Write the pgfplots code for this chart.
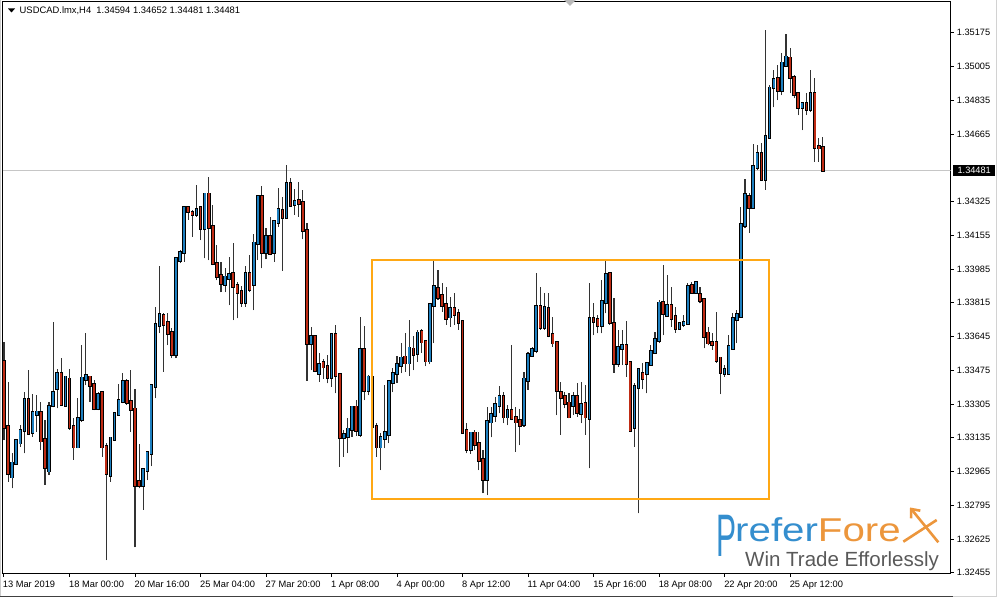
\documentclass[border=0pt]{standalone}
\usepackage{pgfplots}
\pgfplotsset{compat=1.18}
\usepackage{pgfplotstable}
\usepackage{fontspec}
\setmainfont{Liberation Sans}
\usetikzlibrary{arrows.meta}

\definecolor{upc}{RGB}{30,128,192}
\definecolor{dnc}{RGB}{192,44,20}
\definecolor{boxc}{RGB}{255,168,20}
\definecolor{pfblue}{RGB}{52,142,206}
\definecolor{pforange}{RGB}{236,150,60}

% USDCAD H4 candles: index, open, high, low, close
\pgfplotstableread{
i o h l c
0 1.33518 1.33619 1.33123 1.33190
1 1.33190 1.33417 1.32913 1.32956
2 1.32939 1.33056 1.32880 1.33006
3 1.33009 1.33127 1.33003 1.33120
4 1.33110 1.33199 1.33090 1.33170
5 1.33174 1.33367 1.33056 1.33328
6 1.33328 1.33476 1.33149 1.33160
7 1.33165 1.33355 1.33140 1.33261
8 1.33254 1.33350 1.33165 1.33263
9 1.33261 1.33316 1.33073 1.33120
10 1.33123 1.33224 1.32897 1.32989
11 1.32969 1.33316 1.32947 1.33291
12 1.33300 1.33719 1.33288 1.33362
13 1.33384 1.33480 1.33283 1.33459
14 1.33456 1.33535 1.33295 1.33305
15 1.33300 1.33446 1.33291 1.33439
16 1.33429 1.33480 1.33174 1.33190
17 1.33190 1.33233 1.33023 1.33090
18 1.33090 1.33334 1.33082 1.33228
19 1.33228 1.33602 1.33216 1.33434
20 1.33429 1.33661 1.33400 1.33446
21 1.33439 1.33446 1.33316 1.33400
22 1.33400 1.33426 1.33274 1.33283
23 1.33283 1.33367 1.33274 1.33350
24 1.33359 1.33367 1.33039 1.33090
25 1.33090 1.33107 1.32519 1.32956
26 1.32947 1.33140 1.32913 1.33132
27 1.33127 1.33258 1.33120 1.33254
28 1.33254 1.33406 1.33249 1.33321
29 1.33321 1.33459 1.33308 1.33417
30 1.33417 1.33429 1.33300 1.33316
31 1.33316 1.33476 1.33165 1.33278
32 1.33278 1.33379 1.32583 1.32897
33 1.32913 1.33103 1.32880 1.32897
34 1.32897 1.32981 1.32771 1.32972
35 1.32972 1.33065 1.32922 1.33059
36 1.33056 1.33400 1.32992 1.33395
37 1.33395 1.33795 1.33334 1.33703
38 1.33703 1.34000 1.33662 1.33753
39 1.33748 1.33763 1.33467 1.33708
40 1.33714 1.33763 1.33602 1.33664
41 1.33662 1.33688 1.33536 1.33557
42 1.33557 1.34047 1.33536 1.34035
43 1.34030 1.34080 1.34015 1.34065
44 1.34072 1.34298 1.34022 1.34292
45 1.34292 1.34298 1.34232 1.34278
46 1.34267 1.34282 1.34147 1.34262
47 1.34262 1.34408 1.34248 1.34285
48 1.34291 1.34298 1.34131 1.34190
49 1.34190 1.34366 1.34039 1.34361
50 1.34361 1.34450 1.34030 1.34196
51 1.34196 1.34307 1.34005 1.34013
52 1.34013 1.34106 1.33929 1.33950
53 1.33950 1.34022 1.33869 1.33913
54 1.33909 1.33990 1.33869 1.33943
55 1.33938 1.34047 1.33803 1.33955
56 1.33960 1.34117 1.33728 1.33899
57 1.33899 1.33921 1.33736 1.33869
58 1.33869 1.33899 1.33795 1.33820
59 1.33820 1.34000 1.33795 1.33960
60 1.33960 1.34055 1.33869 1.33883
61 1.33909 1.34161 1.33778 1.34114
62 1.34114 1.34357 1.34030 1.34349
63 1.34349 1.34403 1.33988 1.34072
64 1.34072 1.34190 1.34034 1.34147
65 1.34147 1.34248 1.34055 1.34067
66 1.34072 1.34232 1.34022 1.34222
67 1.34222 1.34391 1.34198 1.34282
68 1.34278 1.34349 1.33976 1.34248
69 1.34248 1.34509 1.34245 1.34416
70 1.34413 1.34442 1.34298 1.34307
71 1.34312 1.34386 1.34257 1.34324
72 1.34329 1.34425 1.34248 1.34316
73 1.34319 1.34383 1.34134 1.34181
74 1.34178 1.34218 1.33422 1.33611
75 1.33611 1.33694 1.33476 1.33641
76 1.33641 1.33652 1.33466 1.33476
77 1.33462 1.33560 1.33417 1.33501
78 1.33510 1.33531 1.33431 1.33493
79 1.33493 1.33552 1.33409 1.33439
80 1.33439 1.33661 1.33392 1.33652
81 1.33652 1.33703 1.33359 1.33451
82 1.33451 1.33459 1.32989 1.33137
83 1.33137 1.33174 1.33039 1.33149
84 1.33144 1.33234 1.33058 1.33177
85 1.33177 1.33291 1.33140 1.33288
86 1.33288 1.33325 1.33144 1.33174
87 1.33154 1.33745 1.33140 1.33577
88 1.33577 1.33698 1.33325 1.33375
89 1.33375 1.33451 1.33350 1.33439
90 1.33436 1.33446 1.33174 1.33194
91 1.33190 1.33209 1.33039 1.33090
92 1.33090 1.33159 1.32972 1.33134
93 1.33134 1.33400 1.33083 1.33160
94 1.33154 1.33426 1.33108 1.33417
95 1.33417 1.33486 1.33365 1.33459
96 1.33459 1.33547 1.33411 1.33501
97 1.33501 1.33612 1.33461 1.33535
98 1.33540 1.33661 1.33467 1.33513
99 1.33513 1.33728 1.33446 1.33585
100 1.33580 1.33647 1.33476 1.33557
101 1.33560 1.33678 1.33518 1.33661
102 1.33669 1.33683 1.33562 1.33619
103 1.33619 1.33627 1.33496 1.33523
104 1.33523 1.33814 1.33506 1.33803
105 1.33803 1.34030 1.33611 1.33893
106 1.33883 1.33980 1.33829 1.33842
107 1.33849 1.33913 1.33770 1.33803
108 1.33803 1.33893 1.33703 1.33736
109 1.33745 1.33845 1.33694 1.33782
110 1.33782 1.33865 1.33703 1.33758
111 1.33758 1.33782 1.33678 1.33719
112 1.33719 1.33728 1.33154 1.33165
113 1.33170 1.33208 1.33056 1.33077
114 1.33077 1.33165 1.33053 1.33157
115 1.33157 1.33174 1.33073 1.33103
116 1.33103 1.33165 1.32972 1.33023
117 1.33023 1.33073 1.32855 1.32926
118 1.32926 1.33291 1.32846 1.33216
119 1.33216 1.33291 1.33137 1.33249
120 1.33249 1.33341 1.33216 1.33300
121 1.33300 1.33395 1.33258 1.33339
122 1.33339 1.33367 1.33208 1.33241
123 1.33241 1.33300 1.33199 1.33269
124 1.33269 1.33602 1.33224 1.33233
125 1.33233 1.33291 1.33065 1.33216
126 1.33221 1.33278 1.33098 1.33199
127 1.33204 1.33467 1.33190 1.33429
128 1.33426 1.33568 1.33375 1.33552
129 1.33552 1.33593 1.33542 1.33577
130 1.33577 1.33963 1.33560 1.33795
131 1.33795 1.33896 1.33678 1.33694
132 1.33694 1.33862 1.33678 1.33787
133 1.33782 1.33862 1.33641 1.33652
134 1.33652 1.33745 1.33593 1.33614
135 1.33614 1.33619 1.33249 1.33375
136 1.33362 1.33417 1.33149 1.33341
137 1.33341 1.33367 1.33283 1.33308
138 1.33308 1.33359 1.33233 1.33241
139 1.33300 1.33367 1.33249 1.33341
140 1.33341 1.33409 1.33241 1.33266
141 1.33261 1.33417 1.33208 1.33300
142 1.33305 1.33400 1.33149 1.33241
143 1.33233 1.33913 1.32981 1.33736
144 1.33736 1.33812 1.33652 1.33724
145 1.33728 1.33753 1.33661 1.33703
146 1.33703 1.33929 1.33661 1.33820
147 1.33820 1.34030 1.33762 1.33955
148 1.33960 1.33963 1.33703 1.33719
149 1.33708 1.33837 1.33462 1.33510
150 1.33510 1.33678 1.33493 1.33590
151 1.33585 1.33678 1.33501 1.33598
152 1.33598 1.33724 1.33442 1.33510
153 1.33510 1.33513 1.33165 1.33174
154 1.33190 1.33409 1.33090 1.33392
155 1.33392 1.33485 1.32754 1.33476
156 1.33459 1.33510 1.33379 1.33437
157 1.33459 1.33518 1.33359 1.33505
158 1.33505 1.33602 1.33501 1.33568
159 1.33568 1.33669 1.33560 1.33627
160 1.33627 1.33829 1.33611 1.33812
161 1.33815 1.34005 1.33652 1.33762
162 1.33753 1.33955 1.33745 1.33798
163 1.33798 1.33893 1.33694 1.33736
164 1.33745 1.33795 1.33664 1.33686
165 1.33686 1.33719 1.33678 1.33708
166 1.33708 1.33753 1.33694 1.33714
167 1.33714 1.33916 1.33703 1.33893
168 1.33899 1.33921 1.33862 1.33869
169 1.33869 1.33921 1.33862 1.33913
170 1.33854 1.33896 1.33812 1.33829
171 1.33829 1.33837 1.33585 1.33647
172 1.33661 1.33694 1.33602 1.33614
173 1.33614 1.33664 1.33577 1.33607
174 1.33611 1.33770 1.33513 1.33526
175 1.33535 1.33543 1.33355 1.33466
176 1.33462 1.33500 1.33442 1.33476
177 1.33462 1.33652 1.33456 1.33593
178 1.33585 1.33763 1.33577 1.33736
179 1.33733 1.33778 1.33611 1.33753
180 1.33748 1.34298 1.33741 1.34206
181 1.34206 1.34437 1.34190 1.34357
182 1.34349 1.34366 1.34168 1.34296
183 1.34296 1.34614 1.34291 1.34500
184 1.34500 1.34609 1.34483 1.34567
185 1.34567 1.34618 1.34430 1.34437
186 1.34437 1.35189 1.34383 1.34651
187 1.34651 1.34912 1.34649 1.34895
188 1.34903 1.34987 1.34799 1.34937
189 1.34945 1.35012 1.34836 1.34886
190 1.34886 1.35071 1.34861 1.35021
191 1.35012 1.35168 1.35002 1.35051
192 1.35046 1.35096 1.34870 1.34950
193 1.34950 1.34962 1.34845 1.34866
194 1.34866 1.34873 1.34760 1.34799
195 1.34799 1.34827 1.34685 1.34819
196 1.34819 1.34870 1.34760 1.34789
197 1.34789 1.34987 1.34777 1.34866
198 1.34866 1.34945 1.34525 1.34601
199 1.34601 1.34643 1.34525 1.34596
200 1.34594 1.34652 1.34481 1.34481
}\candles

\pgfplotsset{candle/.style={only marks, mark=*, mark size=0pt,
    mark options={draw=none, fill=none},
    error bars/y dir=plus, error bars/y explicit, error bars/error mark=none}}

\begin{document}
\begin{tikzpicture}[x=1pt,y=1pt]
\path[use as bounding box] (0,0) rectangle (1000,599);
% window edges
\draw[gray!40, line width=1pt] (0.5,2.3) -- (0.5,599);
\draw[black!75, line width=1.2pt] (0,2.3) -- (953,2.3);
\draw[gray!35, line width=1.2pt] (953,2.3) -- (997,2.3) (996.7,2.3) -- (996.7,599);

\begin{axis}[
    at={(2.7pt,25.5pt)}, anchor=south west,
    scale only axis, width=948pt, height=571.5pt,
    xmin=-0.32, xmax=231.24,
    ymin=1.32451, ymax=1.35330,
    clip mode=individual,
    axis line style={line width=1pt, black},
    tick align=outside,
    major tick length=3pt,
    tick style={black, line width=0.8pt},
    xtick pos=bottom, ytick pos=right,
    yticklabel pos=right,
    xtick={-0.2,16,32,48,64,80,96,112,128,144,160,176,192},
    xticklabels={13 Mar 2019,18 Mar 00:00,20 Mar 16:00,25 Mar 04:00,27 Mar 20:00,1 Apr 08:00,4 Apr 00:00,8 Apr 12:00,11 Apr 04:00,15 Apr 16:00,18 Apr 08:00,22 Apr 20:00,25 Apr 12:00},
    ytick={1.32455,1.32625,1.32795,1.32965,1.33135,1.33305,1.33475,1.33645,1.33815,1.33985,1.34155,1.34325,1.34665,1.34835,1.35005,1.35175},
    yticklabels={1.32455,1.32625,1.32795,1.32965,1.33135,1.33305,1.33475,1.33645,1.33815,1.33985,1.34155,1.34325,1.34665,1.34835,1.35005,1.35175},
    xticklabel style={anchor=north west, inner sep=0pt, xshift=-0.5pt, yshift=-4.5pt, font=\fontsize{9.3}{11}\selectfont},
    yticklabel style={anchor=west, inner sep=0pt, xshift=3pt, font=\fontsize{9.2}{11}\selectfont},
]
% current price line
\addplot[gray!45, line width=1pt] coordinates {(-0.32,1.34481) (231.24,1.34481)};

% wicks
\addplot[candle, error bars/error bar style={line width=1.1pt, black!80}]
    table[x=i, y=l, y error expr=\thisrow{h}-\thisrow{l}] {\candles};
% body outlines
\addplot[candle, error bars/error bar style={line width=3.6pt, line cap=rect, black}]
    table[x=i, y expr={min(\thisrow{o},\thisrow{c})}, y error expr={abs(\thisrow{c}-\thisrow{o})}] {\candles};
% bullish bodies
\addplot[candle, restrict expr to domain={\thisrow{c}-\thisrow{o}}{0:1},
    error bars/error bar style={line width=1.8pt, line cap=rect, upc}]
    table[x=i, y=o, y error expr=\thisrow{c}-\thisrow{o}] {\candles};
% bearish bodies
\addplot[candle, restrict expr to domain={\thisrow{o}-\thisrow{c}}{0.000001:1},
    error bars/error bar style={line width=1.8pt, line cap=rect, dnc}]
    table[x=i, y=c, y error expr=\thisrow{o}-\thisrow{c}] {\candles};

% consolidation box
\draw[boxc, line width=2pt] (axis cs:89.9,1.34030) rectangle (axis cs:186.85,1.32825);

% price label
\node[fill=black, text=white, anchor=west, inner xsep=2pt, inner ysep=2pt,
      minimum width=42pt, font=\fontsize{9.2}{11}\selectfont]
      at (axis cs:231.24,1.34481) [xshift=2.3pt] {1.34481};
\end{axis}

% header
\fill[black] (8,590.5) -- (15,590.5) -- (11.5,586.5) -- cycle;
\node[anchor=west, inner sep=0pt, font=\fontsize{9.4}{11}\selectfont] at (19.5,588.5)
  {USDCAD.lmx,H4\ \ 1.34594 1.34652 1.34481 1.34481};
\fill[gray!55] (564,599) -- (576,599) -- (570,593) -- cycle;

% logo
\node[anchor=base west, inner sep=0pt] at (716,42)
  {\scalebox{0.5}[1]{\fontsize{60}{60}\selectfont\color{pfblue}P}};
\node[anchor=base west, inner sep=0pt] at (735,57)
  {\scalebox{1.22}[1]{\fontsize{33}{33}\selectfont\color{pfblue}refer\color{pforange}Fore}};
\draw[pforange, line width=2.6pt] (903.3,57.3) -- (936.7,79);
\draw[pforange, line width=2.6pt, -{Straight Barb[length=7pt,width=12pt]}] (938.3,56.7) -- (910,91.5);
\node[anchor=base west, inner sep=0pt, text=black!65] at (745,32)
  {\fontsize{20.5}{22}\selectfont Win Trade Efforlessly};
\end{tikzpicture}
\end{document}
